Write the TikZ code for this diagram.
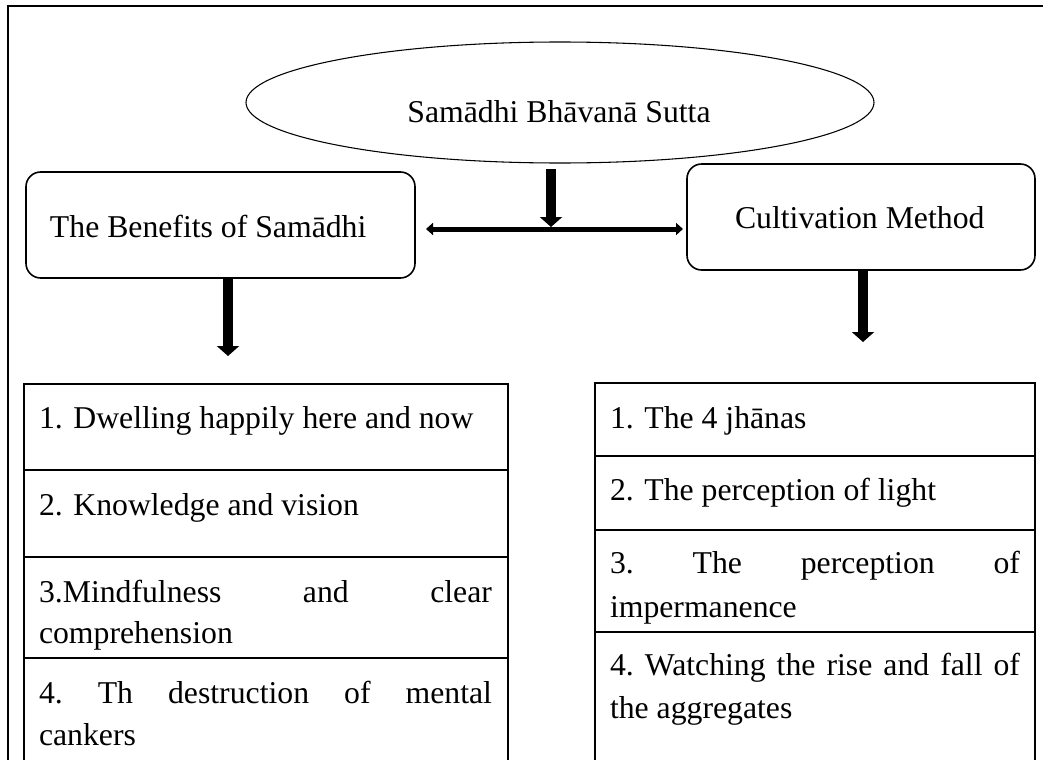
\documentclass[tikz,border=0pt]{standalone}
\usepackage{fontspec}
\setmainfont{Liberation Serif}
\usetikzlibrary{arrows.meta,shapes.geometric}
\begin{document}
\begin{tikzpicture}[x=0.75pt,y=-0.75pt,
  every node/.style={inner sep=0pt,outer sep=0pt},
  txt/.style={anchor=base west,font=\fontsize{23.8pt}{31pt}\selectfont},
  ctxt/.style={anchor=base,font=\fontsize{23.8pt}{31pt}\selectfont},
  lcell/.style={draw,line width=1.5pt,anchor=north west,rectangle,minimum width=363pt},
  rcell/.style={draw,line width=1.5pt,anchor=north west,rectangle,minimum width=330pt},
  rbox/.style={draw,line width=1.2pt,rounded corners=11pt,anchor=north west,rectangle,minimum height=79.5pt},
  bigarr/.style={line width=7.5pt,-{Triangle[length=7.5pt,width=16.5pt]}},
  hline/.style={line width=3.75pt,{Triangle[length=5.25pt,width=9pt]}-{Triangle[length=5.25pt,width=9pt]}}
]
\useasboundingbox (0,0) rectangle (1043,760);
% outer frame
\draw[line width=1.9pt] (8,775) -- (8,6) -- (1050,6);

% ellipse
\node[draw,ellipse,line width=0.8pt,minimum width=471pt,minimum height=90.75pt] (sutta) at (560,102.5) {};
\node[ctxt] (suttatxt) at (559,122) {Samādhi Bhāvanā Sutta};

% rounded boxes
\node[rbox,minimum width=291.75pt] (benefits) at (26,172) {};
\node[txt] (benefitstxt) at (50,237) {The Benefits of Samādhi};
\node[rbox,minimum width=261pt] (method) at (687,164) {};
\node[txt] (methodtxt) at (735,228) {Cultivation Method};

% connectors
\coordinate (j) at (551,227);
\coordinate (hl) at (426,229);
\coordinate (hr) at (683,229);
\draw[bigarr] (sutta.south -| j) ++(0,6) -- (j);
\draw[hline] (hl) -- (hr);
\coordinate (la) at (228,356);
\coordinate (ra) at (863,342);
\draw[bigarr] (benefits.south -| la) -- (la);
\draw[bigarr] (method.south -| ra) -- (ra);

% left table
\node[lcell,minimum height=64.5pt] (l1) at (24,384) {};
\node[lcell,minimum height=65.25pt] (l2) at (24,470) {};
\node[lcell,minimum height=75.75pt] (l3) at (24,557) {};
\node[lcell,minimum height=84pt] (l4) at (24,658) {};
\node[txt] (l1t) at (39,428) {1. Dwelling happily here and now};
\node[txt] (l2t) at (39,515) {2. Knowledge and vision};
\node[txt] (l3a) at (39,602) {\hbox to 339.75pt{3.Mindfulness\hfill and\hfill clear}};
\node[txt] (l3b) at (39,643) {comprehension};
\node[txt] (l4a) at (39,703) {\hbox to 339.75pt{4.\hfill Th\hfill destruction\hfill of\hfill mental}};
\node[txt] (l4b) at (39,745) {cankers};

% right table
\node[rcell,minimum height=54.75pt] (r1) at (595,383) {};
\node[rcell,minimum height=55.5pt] (r2) at (595,456) {};
\node[rcell,minimum height=76.5pt] (r3) at (595,530) {};
\node[rcell,minimum height=103.5pt] (r4) at (595,632) {};
\node[txt] (r1t) at (610,428) {1. The 4 jhānas};
\node[txt] (r2t) at (610,500) {2. The perception of light};
\node[txt] (r3a) at (610,573) {\hbox to 307.5pt{3.\hfill The\hfill perception\hfill of}};
\node[txt] (r3b) at (610,617) {impermanence};
\node[txt] (r4a) at (610,675) {\hbox to 307.5pt{4.\hfill Watching\hfill the\hfill rise\hfill and\hfill fall\hfill of}};
\node[txt] (r4b) at (610,718) {the aggregates};
\end{tikzpicture}
\end{document}
